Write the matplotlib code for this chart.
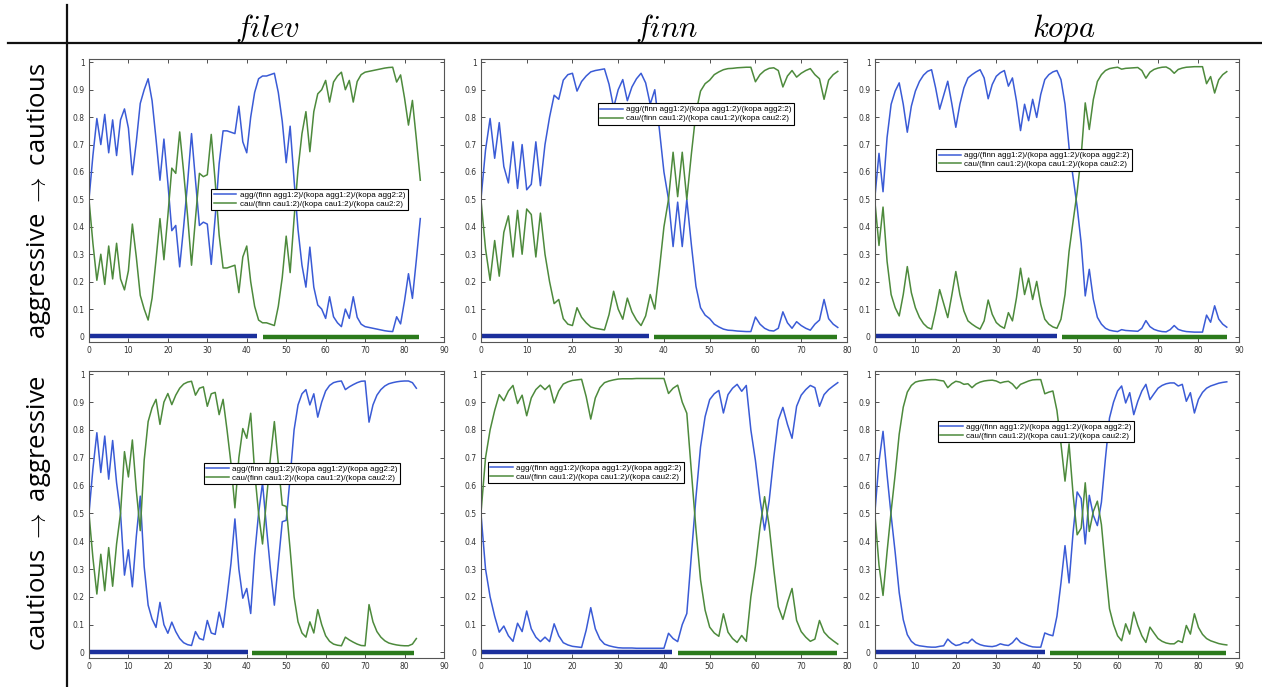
import numpy as np
import matplotlib
matplotlib.use("Agg")
from matplotlib import pyplot as plt
from matplotlib.lines import Line2D

plt.rcParams['mathtext.fontset'] = 'cm'

# posterior of the aggressive / cautious class per window
# row "ac" = aggressive -> cautious, row "ca" = cautious -> aggressive

filev_ac_agg = [0.50, 0.66, 0.795, 0.70, 0.81, 0.67, 0.79, 0.66, 0.79, 0.83,
                0.76, 0.59, 0.71, 0.85, 0.90, 0.94, 0.86, 0.72, 0.57, 0.72,
                0.56, 0.386, 0.405, 0.254, 0.40, 0.56, 0.74, 0.57, 0.405, 0.417,
                0.41, 0.263, 0.435, 0.63, 0.75, 0.75, 0.745, 0.74, 0.84, 0.71,
                0.67, 0.80, 0.89, 0.94, 0.95, 0.95, 0.955, 0.96, 0.89, 0.785,
                0.634, 0.767, 0.57, 0.39, 0.26, 0.18, 0.326, 0.18, 0.115, 0.10,
                0.066, 0.145, 0.072, 0.05, 0.036, 0.10, 0.066, 0.145, 0.07, 0.045,
                0.036, 0.033, 0.03, 0.027, 0.024, 0.021, 0.019, 0.018, 0.072, 0.046,
                0.13, 0.229, 0.139, 0.28, 0.43]
filev_ac_cau = [0.50, 0.34, 0.205, 0.30, 0.19, 0.33, 0.21, 0.34, 0.21, 0.17,
                0.24, 0.41, 0.29, 0.15, 0.10, 0.06, 0.14, 0.28, 0.43, 0.28,
                0.44, 0.614, 0.595, 0.746, 0.60, 0.44, 0.26, 0.43, 0.595, 0.583,
                0.59, 0.737, 0.565, 0.37, 0.25, 0.25, 0.255, 0.26, 0.16, 0.29,
                0.33, 0.20, 0.11, 0.06, 0.05, 0.05, 0.045, 0.04, 0.11, 0.215,
                0.366, 0.233, 0.43, 0.61, 0.74, 0.82, 0.674, 0.82, 0.885, 0.90,
                0.934, 0.855, 0.928, 0.95, 0.964, 0.90, 0.934, 0.855, 0.93, 0.955,
                0.964, 0.967, 0.97, 0.973, 0.976, 0.979, 0.981, 0.982, 0.928, 0.954,
                0.87, 0.771, 0.861, 0.72, 0.57]

finn_ac_agg = [0.50, 0.68, 0.795, 0.65, 0.78, 0.62, 0.56, 0.71, 0.54, 0.70,
               0.535, 0.555, 0.71, 0.55, 0.70, 0.80, 0.88, 0.865, 0.935, 0.955,
               0.96, 0.895, 0.93, 0.95, 0.965, 0.97, 0.973, 0.976, 0.92, 0.835,
               0.90, 0.937, 0.86, 0.91, 0.94, 0.96, 0.925, 0.847, 0.90, 0.756,
               0.60, 0.50, 0.328, 0.49, 0.328, 0.50, 0.334, 0.183, 0.105, 0.078,
               0.065, 0.045, 0.035, 0.027, 0.023, 0.022, 0.02, 0.019, 0.018, 0.018,
               0.071, 0.045, 0.03, 0.022, 0.02, 0.03, 0.09, 0.05, 0.03, 0.054,
               0.04, 0.03, 0.023, 0.045, 0.06, 0.135, 0.065, 0.045, 0.033]
finn_ac_cau = [0.50, 0.32, 0.205, 0.35, 0.22, 0.38, 0.44, 0.29, 0.46, 0.30,
               0.465, 0.445, 0.29, 0.45, 0.30, 0.20, 0.12, 0.135, 0.065, 0.045,
               0.04, 0.105, 0.07, 0.05, 0.035, 0.03, 0.027, 0.024, 0.08, 0.165,
               0.10, 0.063, 0.14, 0.09, 0.06, 0.04, 0.075, 0.153, 0.10, 0.244,
               0.40, 0.50, 0.672, 0.51, 0.672, 0.50, 0.666, 0.817, 0.895, 0.922,
               0.935, 0.955, 0.965, 0.973, 0.977, 0.978, 0.98, 0.981, 0.982, 0.982,
               0.929, 0.955, 0.97, 0.978, 0.98, 0.97, 0.91, 0.95, 0.97, 0.946,
               0.96, 0.97, 0.977, 0.955, 0.94, 0.865, 0.935, 0.955, 0.967]

kopa_ac_agg = [0.51, 0.668, 0.528, 0.726, 0.847, 0.895, 0.925, 0.847, 0.745, 0.84,
               0.895, 0.93, 0.953, 0.967, 0.973, 0.907, 0.829, 0.88, 0.931, 0.85,
               0.763, 0.847, 0.907, 0.943, 0.955, 0.965, 0.973, 0.943, 0.867, 0.919,
               0.949, 0.962, 0.97, 0.913, 0.943, 0.859, 0.751, 0.847, 0.787, 0.865,
               0.799, 0.883, 0.937, 0.955, 0.965, 0.97, 0.937, 0.847, 0.69, 0.58,
               0.473, 0.34, 0.148, 0.245, 0.136, 0.07, 0.045, 0.03, 0.023, 0.02,
               0.018, 0.025, 0.022, 0.021, 0.02, 0.019, 0.03, 0.058, 0.036, 0.026,
               0.021, 0.018, 0.017, 0.025, 0.04, 0.026, 0.021, 0.018, 0.017, 0.016,
               0.016, 0.016, 0.078, 0.052, 0.112, 0.064, 0.045, 0.034]
kopa_ac_cau = [0.49, 0.332, 0.472, 0.274, 0.153, 0.105, 0.075, 0.153, 0.255, 0.16,
               0.105, 0.07, 0.047, 0.033, 0.027, 0.093, 0.171, 0.12, 0.069, 0.15,
               0.237, 0.153, 0.093, 0.057, 0.045, 0.035, 0.027, 0.057, 0.133, 0.081,
               0.051, 0.038, 0.03, 0.087, 0.057, 0.141, 0.249, 0.153, 0.213, 0.135,
               0.201, 0.117, 0.063, 0.045, 0.035, 0.03, 0.063, 0.153, 0.31, 0.42,
               0.527, 0.66, 0.852, 0.755, 0.864, 0.93, 0.955, 0.97, 0.977, 0.98,
               0.982, 0.975, 0.978, 0.979, 0.98, 0.981, 0.97, 0.942, 0.964, 0.974,
               0.979, 0.982, 0.983, 0.975, 0.96, 0.974, 0.979, 0.982, 0.983, 0.984,
               0.984, 0.984, 0.922, 0.948, 0.888, 0.936, 0.955, 0.966]

filev_ca_agg = [0.50, 0.66, 0.79, 0.647, 0.778, 0.623, 0.762, 0.61, 0.50, 0.278,
                0.369, 0.236, 0.417, 0.562, 0.308, 0.17, 0.12, 0.09, 0.18, 0.10,
                0.069, 0.109, 0.075, 0.05, 0.035, 0.028, 0.025, 0.075, 0.05, 0.045,
                0.115, 0.07, 0.065, 0.145, 0.09, 0.20, 0.32, 0.48, 0.30, 0.195,
                0.23, 0.14, 0.35, 0.50, 0.61, 0.45, 0.30, 0.17, 0.32, 0.47,
                0.475, 0.63, 0.80, 0.89, 0.93, 0.945, 0.89, 0.93, 0.846, 0.90,
                0.94, 0.96, 0.97, 0.974, 0.976, 0.945, 0.955, 0.963, 0.97, 0.975,
                0.976, 0.828, 0.89, 0.925, 0.945, 0.958, 0.966, 0.97, 0.973, 0.975,
                0.976, 0.976, 0.97, 0.95]
filev_ca_cau = [0.50, 0.34, 0.21, 0.353, 0.222, 0.377, 0.238, 0.39, 0.50, 0.722,
                0.631, 0.764, 0.583, 0.438, 0.692, 0.83, 0.88, 0.91, 0.82, 0.90,
                0.931, 0.891, 0.925, 0.95, 0.965, 0.972, 0.975, 0.925, 0.95, 0.955,
                0.885, 0.93, 0.935, 0.855, 0.91, 0.80, 0.68, 0.52, 0.70, 0.805,
                0.77, 0.86, 0.65, 0.50, 0.39, 0.55, 0.70, 0.83, 0.68, 0.53,
                0.525, 0.37, 0.20, 0.11, 0.07, 0.055, 0.11, 0.07, 0.154, 0.10,
                0.06, 0.04, 0.03, 0.026, 0.024, 0.055, 0.045, 0.037, 0.03, 0.025,
                0.024, 0.172, 0.11, 0.075, 0.055, 0.042, 0.034, 0.03, 0.027, 0.025,
                0.024, 0.024, 0.03, 0.05]

finn_ca_agg = [0.50, 0.30, 0.20, 0.13, 0.073, 0.095, 0.06, 0.04, 0.105, 0.075,
               0.149, 0.085, 0.055, 0.039, 0.055, 0.039, 0.103, 0.06, 0.035, 0.027,
               0.022, 0.02, 0.018, 0.08, 0.161, 0.085, 0.048, 0.03, 0.024, 0.02,
               0.017, 0.016, 0.016, 0.016, 0.015, 0.015, 0.015, 0.015, 0.015, 0.015,
               0.015, 0.069, 0.05, 0.039, 0.10, 0.14, 0.35, 0.558, 0.739, 0.848,
               0.909, 0.93, 0.942, 0.861, 0.927, 0.95, 0.964, 0.939, 0.96, 0.80,
               0.69, 0.55, 0.44, 0.545, 0.70, 0.836, 0.881, 0.82, 0.77, 0.885,
               0.925, 0.945, 0.96, 0.952, 0.885, 0.927, 0.945, 0.958, 0.97]
finn_ca_cau = [0.50, 0.70, 0.80, 0.87, 0.927, 0.905, 0.94, 0.96, 0.895, 0.925,
               0.851, 0.915, 0.945, 0.961, 0.945, 0.961, 0.897, 0.94, 0.965, 0.973,
               0.978, 0.98, 0.982, 0.92, 0.839, 0.915, 0.952, 0.97, 0.976, 0.98,
               0.983, 0.984, 0.984, 0.984, 0.985, 0.985, 0.985, 0.985, 0.985, 0.985,
               0.985, 0.931, 0.95, 0.961, 0.90, 0.86, 0.65, 0.442, 0.261, 0.152,
               0.091, 0.07, 0.058, 0.139, 0.073, 0.05, 0.036, 0.061, 0.04, 0.20,
               0.31, 0.45, 0.56, 0.455, 0.30, 0.164, 0.119, 0.18, 0.23, 0.115,
               0.075, 0.055, 0.04, 0.048, 0.115, 0.073, 0.055, 0.042, 0.03]

kopa_ca_agg = [0.505, 0.686, 0.795, 0.638, 0.493, 0.36, 0.215, 0.118, 0.064, 0.04,
               0.028, 0.024, 0.022, 0.02, 0.019, 0.019, 0.022, 0.024, 0.048, 0.034,
               0.025, 0.028, 0.036, 0.034, 0.048, 0.035, 0.028, 0.024, 0.022, 0.021,
               0.024, 0.031, 0.027, 0.025, 0.035, 0.052, 0.036, 0.03, 0.024, 0.02,
               0.019, 0.019, 0.07, 0.064, 0.06, 0.13, 0.25, 0.384, 0.25, 0.432,
               0.577, 0.553, 0.39, 0.565, 0.493, 0.456, 0.54, 0.698, 0.843, 0.90,
               0.94, 0.958, 0.897, 0.934, 0.855, 0.903, 0.94, 0.964, 0.909, 0.93,
               0.95, 0.96, 0.966, 0.969, 0.969, 0.958, 0.964, 0.903, 0.934, 0.861,
               0.91, 0.935, 0.95, 0.958, 0.963, 0.968, 0.971, 0.973]
kopa_ca_cau = [0.495, 0.314, 0.205, 0.362, 0.507, 0.64, 0.785, 0.882, 0.936, 0.96,
               0.972, 0.976, 0.978, 0.98, 0.981, 0.981, 0.978, 0.976, 0.952, 0.966,
               0.975, 0.972, 0.964, 0.966, 0.952, 0.965, 0.972, 0.976, 0.978, 0.979,
               0.976, 0.969, 0.973, 0.975, 0.965, 0.948, 0.964, 0.97, 0.976, 0.98,
               0.981, 0.981, 0.93, 0.936, 0.94, 0.87, 0.75, 0.616, 0.75, 0.568,
               0.423, 0.447, 0.61, 0.435, 0.507, 0.544, 0.46, 0.302, 0.157, 0.10,
               0.06, 0.042, 0.103, 0.066, 0.145, 0.097, 0.06, 0.036, 0.091, 0.07,
               0.05, 0.04, 0.034, 0.031, 0.031, 0.042, 0.036, 0.097, 0.066, 0.139,
               0.09, 0.065, 0.05, 0.042, 0.037, 0.032, 0.029, 0.027]

# ground truth segments (start, end) for each recording
filev_ac_seg = [(0, 42.7), (44, 83.6)]
finn_ac_seg = [(0, 36.7), (37.8, 77.8)]
kopa_ac_seg = [(0, 44.9), (46.2, 87.1)]
filev_ca_seg = [(0, 40.3), (41.4, 82.5)]
finn_ca_seg = [(0, 41.8), (43, 77.8)]
kopa_ca_seg = [(0, 42.1), (43.2, 86.7)]

subjects = ['filev', 'finn', 'kopa']
row_titles = [r'aggressive $\rightarrow$ cautious', r'cautious $\rightarrow$ aggressive']
xmax = [90, 80, 90]
labels = ['agg/(finn agg1:2)/(kopa agg1:2)/(kopa agg2:2)',
          'cau/(finn cau1:2)/(kopa cau1:2)/(kopa cau2:2)']

agg_color = '#3a5bd6'
cau_color = '#4d8a3c'
agg_bar = '#1b2f9c'
cau_bar = '#2b7a1c'

fig = plt.figure(figsize=(12.62, 6.87), dpi=100)

col_left = [0.0705, 0.3811, 0.6933]
col_width = [0.2813, 0.2900, 0.2884]
row_bottom = [0.5022, 0.0422]
row_height = [0.4119, 0.4178]

runs = [[(filev_ac_agg, filev_ac_cau, filev_ac_seg, (0.345, 0.542)),
         (finn_ac_agg, finn_ac_cau, finn_ac_seg, (0.32, 0.843)),
         (kopa_ac_agg, kopa_ac_cau, kopa_ac_seg, (0.168, 0.681))],
        [(filev_ca_agg, filev_ca_cau, filev_ca_seg, (0.324, 0.679)),
         (finn_ca_agg, finn_ca_cau, finn_ca_seg, (0.019, 0.683)),
         (kopa_ca_agg, kopa_ca_cau, kopa_ca_seg, (0.173, 0.826))]]

ytick_vals = np.arange(0, 11) / 10
ytick_text = ['0'] + ['%.1f' % v for v in ytick_vals[1:-1]] + ['1']

for r in range(2):
    for c in range(3):
        agg, cau, seg, leg_at = runs[r][c]
        ax = fig.add_axes([col_left[c], row_bottom[r], col_width[c], row_height[r]])
        x = np.arange(len(agg))
        ax.plot(x, agg, color=agg_color, lw=1.1, label=labels[0])
        ax.plot(x, cau, color=cau_color, lw=1.1, label=labels[1])
        ax.plot(seg[0], [0.002, 0.002], color=agg_bar, lw=3.2, solid_capstyle='butt')
        ax.plot(seg[1], [-0.002, -0.002], color=cau_bar, lw=3.2, solid_capstyle='butt')

        ax.set_xlim(0, xmax[c])
        ax.set_ylim(-0.02, 1.012)
        ax.set_xticks(range(0, xmax[c] + 1, 10))
        ax.set_yticks(ytick_vals)
        ax.set_yticklabels(ytick_text)
        ax.tick_params(direction='in', top=True, right=True, length=3, width=0.6,
                       labelsize=5.5, pad=3, colors='#333333')
        for s in ax.spines.values():
            s.set_linewidth(0.8)
            s.set_color('#555555')

        leg = ax.legend(loc='upper left', bbox_to_anchor=leg_at, borderaxespad=0,
                        prop={'family': 'Liberation Sans', 'size': 5.8},
                        handlelength=2.8, handletextpad=0.4, borderpad=0.3,
                        labelspacing=0.15, fancybox=False, framealpha=1)
        leg.get_frame().set_edgecolor('black')
        leg.get_frame().set_linewidth(0.8)

# table rules and headings
fig.add_artist(Line2D([0.006, 1.0], [0.9374, 0.9374], color='#111111', lw=1.6,
                      transform=fig.transFigure))
fig.add_artist(Line2D([0.0531, 0.0531], [0.0, 0.993], color='#111111', lw=1.6,
                      transform=fig.transFigure))

for cx, name in zip([0.212, 0.528, 0.843], subjects):
    fig.text(cx, 0.946, r'$\mathit{%s}$' % name, ha='center', va='baseline', fontsize=22)

for cy, title in zip([0.707, 0.253], row_titles):
    fig.text(0.031, cy, title, rotation=90, ha='center', va='center', fontsize=18.5,
             family=['Open Sans', 'DejaVu Sans'])

fig.savefig('out.png', dpi=100)
